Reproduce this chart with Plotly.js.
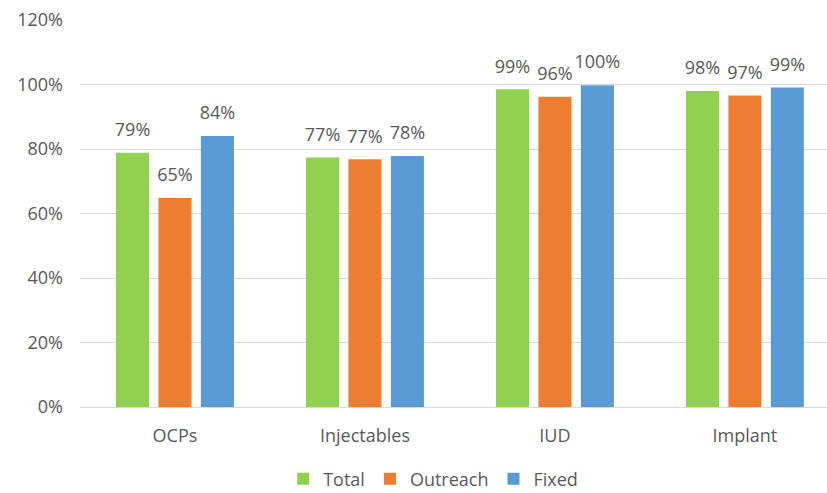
<!DOCTYPE html>
<html>
<head>
<meta charset="utf-8">
<script src="https://cdn.plot.ly/plotly-3.0.1.min.js"></script>
<style>html,body{margin:0;padding:0;background:#fff;}#chart{width:827px;height:493px;}</style>
</head>
<body>
<div id="chart"></div>
<script>
const categories = ["OCPs", "Injectables", "IUD", "Implant"];
const seriesNames = ["Total", "Outreach", "Fixed"];
const totalValues = [0.788, 0.774, 0.985, 0.980];
const outreachValues = [0.648, 0.768, 0.962, 0.966];
const fixedValues = [0.840, 0.778, 0.998, 0.991];
const yTickValues = [0, 0.2, 0.4, 0.6, 0.8, 1.0, 1.2];
const yTickLabels = ["0%", "20%", "40%", "60%", "80%", "100%", "120%"];

const colors = ["#92D050", "#ED7D31", "#5B9BD5"];
const allValues = [totalValues, outreachValues, fixedValues];
const fontFam = "Open Sans, sans-serif";
const textColor = "#595959";
const GAP = 0.33;

const traces = [];
allValues.forEach((vals, i) => {
  traces.push({
    type: "bar",
    name: seriesNames[i],
    x: categories,
    y: vals,
    offsetgroup: String(i),
    marker: {color: colors[i], line: {width: 0}},
    hoverinfo: "skip"
  });
});
allValues.forEach((vals, i) => {
  traces.push({
    type: "scatter",
    mode: "markers+text",
    x: categories,
    y: vals,
    offsetgroup: String(i),
    marker: {size: 18, opacity: 0, color: "#fff"},
    text: vals.map(v => Math.round(v * 100) + "%"),
    textposition: "top center",
    textfont: {family: fontFam, size: 18, color: textColor},
    showlegend: false,
    hoverinfo: "skip",
    cliponaxis: false
  });
});

const layout = {
  width: 827, height: 493,
  margin: {l: 80, r: 0, t: 20, b: 86, autoexpand: false},
  paper_bgcolor: "#fff", plot_bgcolor: "#fff",
  barmode: "group",
  bargap: GAP,
  bargroupgap: 0.22,
  scattermode: "group",
  scattergap: GAP,
  showlegend: true,
  legend: {
    orientation: "h", xref: "paper", x: 0.272, xanchor: "left",
    yref: "paper", y: -0.186, yanchor: "middle",
    font: {family: fontFam, size: 18, color: textColor},
    traceorder: "normal", itemclick: false
  },
  xaxis: {
    range: [-0.5, 3.432],
    showgrid: false, zeroline: false, showline: false,
    ticks: "", ticklen: 0, ticklabelstandoff: 16,
    tickfont: {family: fontFam, size: 18, color: textColor}
  },
  yaxis: {
    range: [0, 1.2],
    tickvals: yTickValues, ticktext: yTickLabels,
    showgrid: true, gridcolor: "#D9D9D9", gridwidth: 1,
    zeroline: true, zerolinecolor: "#D9D9D9", zerolinewidth: 1,
    showline: false, ticks: "", ticklabelstandoff: 16,
    tickfont: {family: fontFam, size: 18, color: textColor}
  }
};

Plotly.newPlot("chart", traces, layout, {staticPlot: true, displayModeBar: false});
</script>
</body>
</html>
